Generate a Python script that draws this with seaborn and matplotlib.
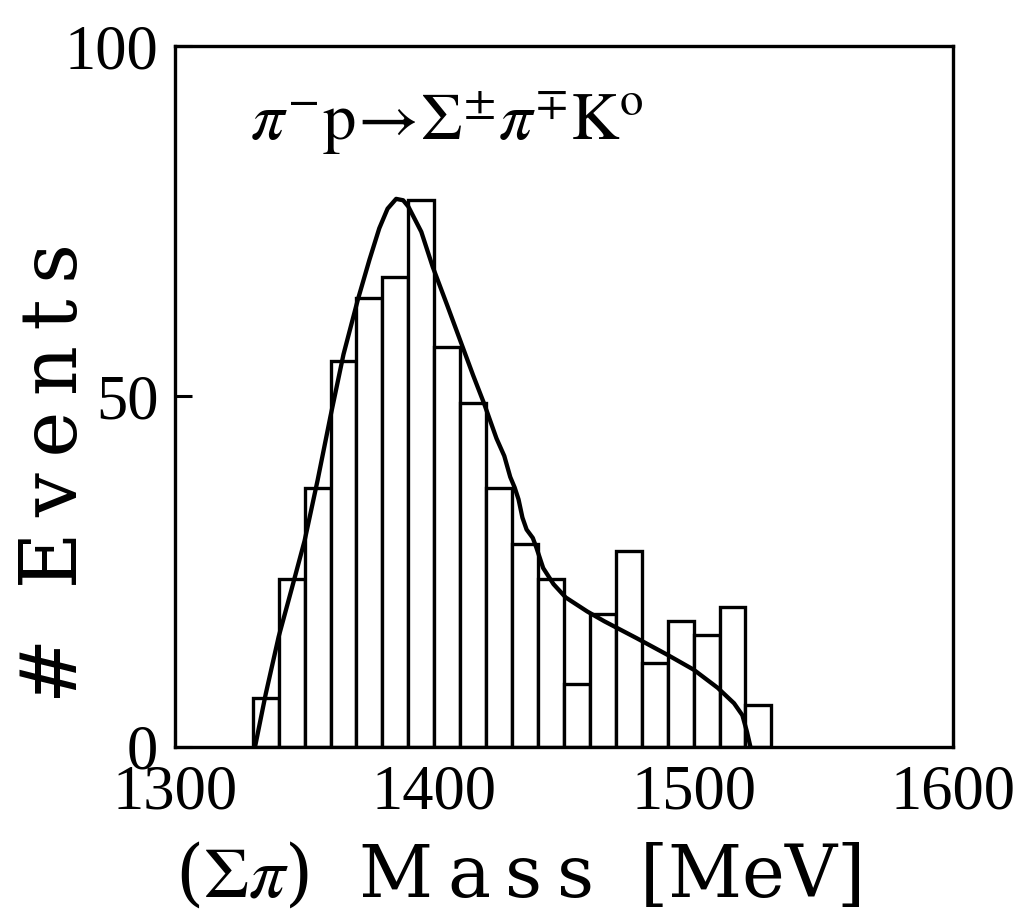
import numpy as np
import pandas as pd
import matplotlib
matplotlib.use("Agg")
import matplotlib.pyplot as plt
import seaborn as sns

# Histogram of (Sigma pi) invariant mass, 10 MeV bins from 1330 to 1530 MeV
bin_edges = [1330, 1340, 1350, 1360, 1370, 1380, 1390, 1400, 1410, 1420, 1430,
             1440, 1450, 1460, 1470, 1480, 1490, 1500, 1510, 1520, 1530]
counts = [7, 24, 37, 55, 64, 67, 78, 57, 49, 37,
          29, 24, 9, 19, 28, 12, 18, 16, 20, 6]

# Fitted curve (mass in MeV, events)
curve_mass = [1330.9, 1335, 1340, 1345, 1350, 1355, 1360, 1365, 1370.6, 1375,
              1378.8, 1382, 1385.3, 1388, 1390, 1395, 1399.4, 1405, 1410.7, 1415,
              1419.3, 1424, 1427, 1429.3, 1431, 1432.5, 1434, 1435.6, 1438, 1439.4,
              1442, 1446, 1450.7, 1459, 1465.6, 1478, 1490, 1500, 1509.3, 1515.6,
              1518.8, 1520.6, 1521.9]
curve_events = [0, 7.5, 15.7, 22.5, 29.4, 38, 47.2, 56, 63.9, 69.5,
                74, 76.8, 78.2, 78, 77.1, 73.5, 68.5, 63, 57.3, 53,
                48.9, 44, 41.5, 38.5, 37, 35.3, 32.7, 31, 29.8, 28.4,
                25.5, 23.2, 21.3, 19.3, 17.9, 15.5, 13.1, 11, 8.4, 6.2,
                4.5, 2.1, 0]

x_ticks = [1300, 1400, 1500, 1600]
y_ticks = [0, 50, 100]

sns.set_theme(style="ticks")
plt.rcParams["font.family"] = ["Liberation Serif", "DejaVu Serif"]
plt.rcParams["mathtext.fontset"] = "stix"
for key in ("text.color", "axes.labelcolor", "xtick.color", "ytick.color",
            "axes.edgecolor"):
    plt.rcParams[key] = "black"

fig = plt.figure(figsize=(10.17, 9.23), dpi=100)
ax = fig.add_axes([0.172, 0.191, 0.765, 0.759])

centers = [(a + b) / 2 for a, b in zip(bin_edges[:-1], bin_edges[1:])]
hist_df = pd.DataFrame({"mass": centers, "n": counts})
sns.histplot(data=hist_df, x="mass", weights="n", bins=bin_edges, ax=ax,
             color="white", edgecolor="black", linewidth=2.4, alpha=1)

curve_df = pd.DataFrame({"mass": curve_mass, "events": curve_events})
sns.lineplot(data=curve_df, x="mass", y="events", ax=ax, color="black",
             linewidth=3.1, sort=False)

ax.set_xlim(1300, 1600)
ax.set_ylim(0, 100)
ax.set_xticks(x_ticks)
ax.set_yticks(y_ticks)
ax.set_xticklabels([str(t) for t in x_ticks])
ax.set_yticklabels([str(t) for t in y_ticks])
ax.tick_params(direction="in", length=12, width=2.2, labelsize=45)
ax.tick_params(axis="x", pad=13)
ax.tick_params(axis="y", pad=12)
for s in ax.spines.values():
    s.set_linewidth(2.4)

thin = "\u2009"
xlab = "(" + r"$\Sigma\pi$" + ")  " + thin.join("Mass") + "  [MeV]"
ax.set_xlabel(xlab, fontsize=52, family=["DejaVu Serif"])
ax.xaxis.set_label_coords(0.44, -0.135)

ylab = "#  " + thin.join("Events")
ax.set_ylabel(ylab, fontsize=56, family=["DejaVu Serif"])
ax.yaxis.set_label_coords(-0.105, 0.39)

ax.text(0.096, 0.866,
        r"$\pi^{-}\mathrm{p}\!\rightarrow\!\Sigma^{\pm}\pi^{\mp}\mathrm{K}^{\mathrm{o}}$",
        transform=ax.transAxes, fontsize=48, ha="left", va="baseline")

fig.savefig("out.png", dpi=100, facecolor="white")
